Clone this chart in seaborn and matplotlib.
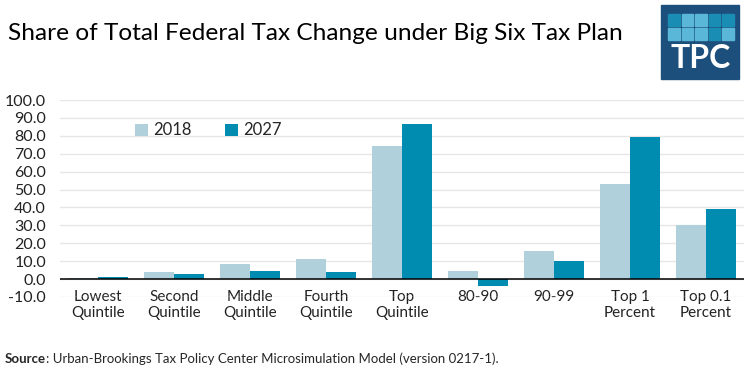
import numpy as np
import pandas as pd
import matplotlib.pyplot as plt
from matplotlib.patches import Rectangle
import seaborn as sns

groups = ["Lowest\nQuintile", "Second\nQuintile", "Middle\nQuintile", "Fourth\nQuintile",
          "Top\nQuintile", "80-90", "90-99", "Top 1\nPercent", "Top 0.1\nPercent"]
share_2018 = [0.8, 4.1, 8.2, 11.3, 74.5, 4.6, 15.8, 53.2, 30.3]
share_2027 = [1.0, 3.1, 4.6, 4.1, 86.4, -3.7, 10.2, 79.5, 39.3]
years = ["2018", "2027"]
colors = ["#b0d0db", "#008bb0"]

df = pd.DataFrame({
    "Group": groups * 2,
    "Year": [years[0]] * len(groups) + [years[1]] * len(groups),
    "Share": share_2018 + share_2027,
})

sns.set_style("white")
plt.rcParams["font.family"] = ["Lato", "DejaVu Sans"]

W, H = 744, 383
fig = plt.figure(figsize=(7.44, 3.83), dpi=100)
ax = fig.add_axes([60 / W, (H - 297) / H, 684 / W, 197 / H])

sns.barplot(data=df, x="Group", y="Share", hue="Year", palette=colors,
            width=0.8, saturation=1, linewidth=0, ax=ax, legend=True)

ax.set_ylim(-10, 100)
ax.set_xlim(-0.5, len(groups) - 0.5)
ax.set_yticks(np.arange(-10, 101, 10))
ax.set_yticklabels([f"{v:.1f}" for v in np.arange(-10, 101, 10)], fontsize=11.5, color="#222222")
ax.yaxis.grid(True, color="#e6e6e6", linewidth=1)
ax.set_axisbelow(True)
ax.axhline(0, color="black", linewidth=1.1, zorder=3)
for s in ax.spines.values():
    s.set_visible(False)
ax.tick_params(axis="y", length=0, pad=10)
ax.tick_params(axis="x", length=0, pad=-5, labelsize=11, labelcolor="#222222")
ax.set_xlabel("")
ax.set_ylabel("")

leg = ax.legend(loc="upper left", bbox_to_anchor=(0.1, 0.92), ncol=2, frameon=False,
                fontsize=12, handlelength=0.75, handleheight=0.75, handletextpad=0.35,
                columnspacing=2.0, borderaxespad=0)

fig.text(8 / W, 1 - 33 / H, "Share of Total Federal Tax Change under Big Six Tax Plan",
         fontsize=17.6, va="center", ha="left", color="black")

src = fig.text(5 / W, 1 - 359 / H, "Source", fontsize=9.5, fontweight="bold", va="center")
fig.canvas.draw()
bb = src.get_window_extent()
fig.text(bb.x1 / W, 1 - 359 / H,
         ": Urban-Brookings Tax Policy Center Microsimulation Model (version 0217-1).",
         fontsize=9.5, va="center")

# TPC logo
fig.patches.append(Rectangle((661 / W, 1 - 79 / H), 78 / W, 74 / H,
                             transform=fig.transFigure, color="#1d4f7c", zorder=5))
sq_colors = [["#1a8db5", "#5bb7d8", "#5bb7d8", "#1a8db5", "#1a8db5"],
             ["#5bb7d8", "#5bb7d8", "#5bb7d8", "#1a8db5", "#5bb7d8"]]
col_x = [668, 681.5, 695, 708.5, 722]
row_y = [14, 28]
for r in range(2):
    for c in range(5):
        fig.patches.append(Rectangle((col_x[c] / W, 1 - (row_y[r] + 11.5) / H), 11.5 / W, 11.5 / H,
                                     transform=fig.transFigure, color=sq_colors[r][c], zorder=6))
fig.text(700.5 / W, 1 - 58 / H, "TPC", color="white", fontsize=23, fontweight="bold",
         ha="center", va="center", zorder=7)

fig.savefig("out.png", dpi=100)
